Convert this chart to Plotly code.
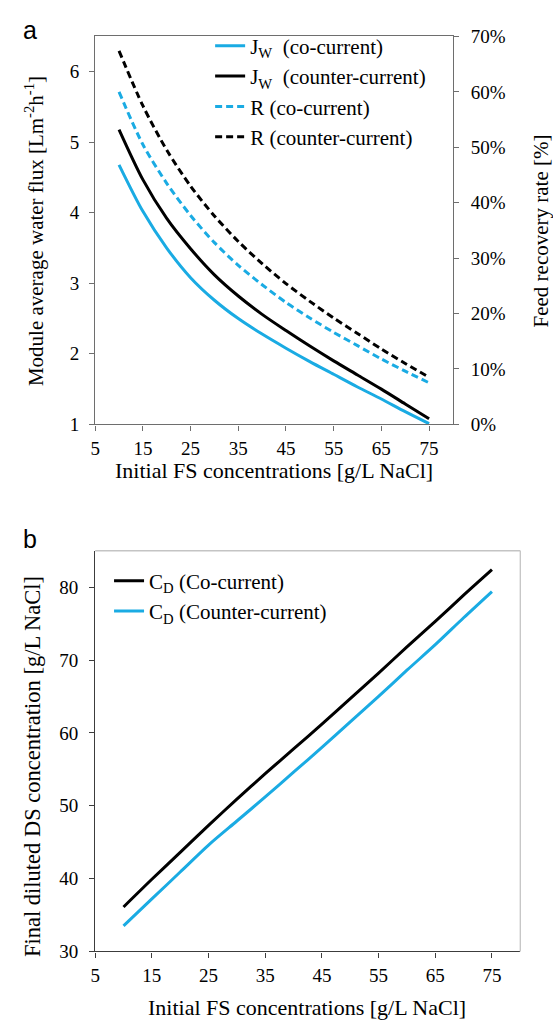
import plotly.graph_objects as go

# ---------------- data ----------------
fs_conc = [10, 15, 20, 25, 30, 35, 40, 45, 50, 55, 60, 65, 70, 75]
jw_co = [4.68, 4.02, 3.50, 3.08, 2.76, 2.50, 2.28, 2.08, 1.89, 1.71, 1.53, 1.36, 1.18, 1.01]
jw_counter = [5.18, 4.47, 3.92, 3.49, 3.12, 2.82, 2.56, 2.33, 2.11, 1.90, 1.70, 1.50, 1.29, 1.08]
r_co = [0.600, 0.505, 0.435, 0.377, 0.328, 0.287, 0.252, 0.220, 0.192, 0.166, 0.142, 0.118, 0.096, 0.075]
r_counter = [0.674, 0.575, 0.495, 0.430, 0.376, 0.330, 0.290, 0.254, 0.222, 0.192, 0.164, 0.136, 0.110, 0.085]
cd_co = [36.1, 39.9, 43.6, 47.3, 50.9, 54.4, 57.8, 61.2, 64.7, 68.2, 71.8, 75.3, 78.9, 82.4]
cd_counter = [33.5, 37.2, 40.9, 44.6, 47.9, 51.2, 54.6, 58.0, 61.5, 65.0, 68.6, 72.1, 75.8, 79.4]
x_ticks = [5, 15, 25, 35, 45, 55, 65, 75]

W, H = 553, 1030
CYAN = "#1aabe3"
SERIF = "'Liberation Serif', 'Times New Roman', 'DejaVu Serif', serif"
SANS = "'Liberation Sans', Arial, sans-serif"

def px_x(p):
    return p / W

def px_y(p):
    return 1 - p / H

fig = go.Figure()
def add(x, y, name, color, dash, xa, ya, lg):
    fig.add_trace(go.Scatter(x=x, y=y, mode="lines", name=name,
                             line=dict(color=color, width=3, dash=dash, shape="spline", smoothing=0.8),
                             xaxis=xa, yaxis=ya, legend=lg))

add(fs_conc, jw_co, "J<sub>W</sub>\u00a0 (co-current)", CYAN, "solid", "x", "y", "legend")
add(fs_conc, jw_counter, "J<sub>W</sub>\u00a0 (counter-current)", "black", "solid", "x", "y", "legend")
add(fs_conc, r_co, "R (co-current)", CYAN, "7px,4px", "x", "y2", "legend")
add(fs_conc, r_counter, "R (counter-current)", "black", "7px,4px", "x", "y2", "legend")
add(fs_conc, cd_co, "C<sub>D</sub> (Co-current)", "black", "solid", "x2", "y3", "legend2")
add(fs_conc, cd_counter, "C<sub>D</sub> (Counter-current)", CYAN, "solid", "x2", "y3", "legend2")

tickfont = dict(family=SERIF, size=19, color="black")
ax_a = "#6e6e6e"
ax_b = "#3c3c3c"

def axis(color, **kw):
    d = dict(showline=True, linecolor=color, linewidth=1.3, ticks="outside", ticklen=5,
             tickcolor=color, showgrid=False, zeroline=False, tickfont=tickfont)
    d.update(kw)
    return d

fig.update_layout(
    width=W, height=H,
    margin=dict(l=0, r=0, t=0, b=0),
    paper_bgcolor="white", plot_bgcolor="white",
    font=dict(family=SERIF, size=19, color="black"),
    xaxis=axis(ax_a, domain=[px_x(91), px_x(452)], range=[5, 80], tickvals=x_ticks, mirror=True,
               anchor="y", ticklabelstandoff=2),
    yaxis=axis(ax_a, domain=[px_y(423), px_y(27)], range=[1, 6.5], tickvals=[1, 2, 3, 4, 5, 6],
               anchor="x", ticklabelstandoff=6),
    yaxis2=axis(ax_a, overlaying="y", side="right", range=[0, 0.70], dtick=0.1, tickformat=".0%",
                anchor="x", ticklabelstandoff=8),
    xaxis2=axis(ax_b, domain=[px_x(91), px_x(520)], range=[5, 80], tickvals=x_ticks,
                anchor="y3", ticklabelstandoff=2),
    yaxis3=axis(ax_b, domain=[px_y(961), px_y(552)], range=[30, 85], tickvals=[30, 40, 50, 60, 70, 80],
                anchor="x2", ticklabelstandoff=7),
    legend=dict(x=px_x(207), y=px_y(16), xanchor="left", yanchor="top",
                bgcolor="rgba(0,0,0,0)", font=dict(family=SERIF, size=21, color="black"),
                itemwidth=30, tracegroupgap=0),
    legend2=dict(x=px_x(105), y=px_y(562), xanchor="left", yanchor="top",
                 bgcolor="rgba(0,0,0,0)", font=dict(family=SERIF, size=21, color="black"),
                 itemwidth=30),
    showlegend=True,
)

# light frame for panel b (top and right)
fig.add_shape(type="line", xref="paper", yref="paper", x0=px_x(91), x1=px_x(520), y0=px_y(552), y1=px_y(552),
              line=dict(color="#c4c4c4", width=1.3))
fig.add_shape(type="line", xref="paper", yref="paper", x0=px_x(520), x1=px_x(520), y0=px_y(552), y1=px_y(961),
              line=dict(color="#c4c4c4", width=1.3))

ann = [
    dict(text="a", x=px_x(25), y=px_y(20), font=dict(family=SANS, size=25, color="black")),
    dict(text="b", x=px_x(25), y=px_y(540), font=dict(family=SANS, size=25, color="black")),
    dict(text="Initial FS concentrations [g/L NaCl]", x=px_x(271), y=px_y(470),
         font=dict(family=SERIF, size=22, color="black")),
    dict(text="Initial FS concentrations [g/L NaCl]", x=px_x(305), y=px_y(1018),
         font=dict(family=SERIF, size=22, color="black")),
    dict(text="Module average water flux [Lm<sup>-2</sup>h<sup>-1</sup>]", x=px_x(30), y=px_y(226),
         textangle=-90, font=dict(family=SERIF, size=21, color="black")),
    dict(text="Feed recovery rate [%]", x=px_x(541), y=px_y(226),
         textangle=-90, font=dict(family=SERIF, size=21, color="black")),
    dict(text="Final diluted DS concentration [g/L NaCl]", x=px_x(28), y=px_y(772),
         textangle=-90, font=dict(family=SERIF, size=22.5, color="black")),
]
for a in ann:
    fig.add_annotation(xref="paper", yref="paper", showarrow=False, xanchor="center", yanchor="middle", **a)

fig.write_html("out.html")
